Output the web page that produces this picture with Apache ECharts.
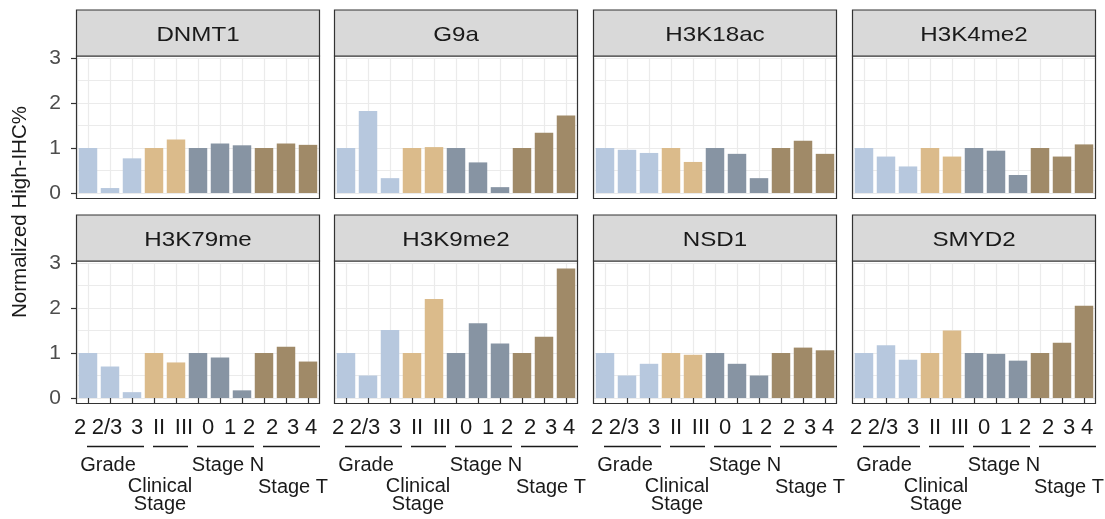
<!DOCTYPE html>
<html><head><meta charset="utf-8">
<script src="https://cdn.jsdelivr.net/npm/echarts@6/dist/echarts.min.js"></script>
<style>html,body{margin:0;padding:0;background:#fff}#c{width:1105px;height:519px}</style>
</head><body><div id="c"></div><script>
// ---- data ----
const markers = ['DNMT1', 'G9a', 'H3K18ac', 'H3K4me2', 'H3K79me', 'H3K9me2', 'NSD1', 'SMYD2'];
const tickLabels = ['2', '2/3', '3', 'II', 'III', '0', '1', '2', '2', '3', '4'];
const groupOf = [0, 0, 0, 1, 1, 2, 2, 2, 3, 3, 3];
const groupNames = ['Grade', 'Clinical\nStage', 'Stage N', 'Stage T'];
const yTicks = [0, 1, 2, 3];

const DNMT1   = [1.00, 0.11, 0.77, 1.00, 1.19, 1.00, 1.10, 1.06, 1.00, 1.10, 1.07];
const G9a     = [1.00, 1.82, 0.33, 1.00, 1.02, 1.00, 0.68, 0.13, 1.00, 1.34, 1.72];
const H3K18ac = [1.00, 0.96, 0.89, 1.00, 0.69, 1.00, 0.87, 0.33, 1.00, 1.16, 0.87];
const H3K4me2 = [1.00, 0.81, 0.59, 1.00, 0.81, 1.00, 0.94, 0.40, 1.00, 0.81, 1.08];
const H3K79me = [1.00, 0.70, 0.13, 1.00, 0.79, 1.00, 0.90, 0.17, 1.00, 1.14, 0.81];
const H3K9me2 = [1.00, 0.50, 1.51, 1.00, 2.20, 1.00, 1.66, 1.21, 1.00, 1.36, 2.88];
const NSD1    = [1.00, 0.50, 0.76, 1.00, 0.96, 1.00, 0.76, 0.50, 1.00, 1.12, 1.06];
const SMYD2   = [1.00, 1.17, 0.85, 1.00, 1.50, 1.00, 0.98, 0.83, 1.00, 1.23, 2.05];
const values = [DNMT1, G9a, H3K18ac, H3K4me2, H3K79me, H3K9me2, NSD1, SMYD2];

// ---- style / layout ----
const colors = ['#b7c8de', '#dbbb8b', '#8794a3', '#a08a68'];
const FONT = "'Liberation Sans', Arial, sans-serif";
const colLeft = [77, 335, 594, 853];
const panelW = 242;
const gridTop = [58, 263];
const gridH = 135;
const panelTop = [56, 261];
const panelBot = [198.5, 403.5];
const stripTop = [10, 215];
const stripH = 46;
const labelShift = [-8, -3, 5, 5, 8, 10, 10, 7, 8, 7, 3];

const catKeys = tickLabels.map((t, i) => i + '|' + t);
const rich = {};
labelShift.forEach((d, i) => {
  rich['s' + i] = {fontSize: 22, fontFamily: FONT, color: '#1a1a1a',
    padding: d >= 0 ? [0, 0, 0, 2 * d] : [0, -2 * d, 0, 0]};
});

const grids = [], xAxes = [], yAxes = [], series = [];
markers.forEach((m, k) => {
  const row = Math.floor(k / 4), col = k % 4;
  grids.push({left: colLeft[col], top: gridTop[row], width: panelW, height: gridH});
  const xi = xAxes.length;
  xAxes.push({
    type: 'category', gridIndex: k, data: catKeys, boundaryGap: true,
    offset: row === 1 ? 5.5 : 0,
    axisLine: {show: false},
    axisTick: {show: row === 1, alignWithLabel: true, interval: 0, length: 6, lineStyle: {color: '#333333', width: 1.2}},
    axisLabel: {show: row === 1, interval: 0, margin: 13, fontSize: 22, fontFamily: FONT, color: '#1a1a1a', rich: rich,
      formatter: (v) => { const p = v.split('|'); return '{s' + p[0] + '|' + p[1] + '}'; }},
    splitLine: {show: false}
  });
  // hidden helper axis: vertical grid lines at category centres
  xAxes.push({
    type: 'value', gridIndex: k, min: -0.5, max: 10.5, splitNumber: 11, position: 'top',
    axisLine: {show: false}, axisTick: {show: false}, axisLabel: {show: false},
    splitLine: {show: true, lineStyle: {color: '#ebebeb', width: 1.2}}
  });
  const yi = yAxes.length;
  yAxes.push({
    type: 'value', gridIndex: k, position: 'left', min: 0, max: 3, interval: 0.5,
    axisLine: {show: false}, axisTick: {show: false}, axisLabel: {show: false},
    splitLine: {show: true, lineStyle: {color: '#ebebeb', width: 1.2}}
  });
  if (col === 0) {
    yAxes.push({
      type: 'value', gridIndex: k, position: 'left', min: 0, max: 3, interval: 1,
      axisLine: {show: false}, splitLine: {show: false},
      axisTick: {show: true, length: 6, lineStyle: {color: '#333333', width: 1.2}},
      axisLabel: {show: true, margin: 16, fontSize: 21, fontFamily: FONT, color: '#4d4d4d',
        formatter: v => (yTicks.indexOf(v) >= 0 ? String(v) : '')}
    });
  }
  series.push({
    type: 'bar', xAxisIndex: xi, yAxisIndex: yi, barCategoryGap: '16%', silent: true,
    data: values[k].map((v, i) => ({value: v, itemStyle: {color: colors[groupOf[i]]}}))
  });
});

const chart = echarts.init(document.getElementById('c'), null, {renderer: 'canvas'});
chart.setOption({
  animation: false, backgroundColor: '#ffffff',
  grid: grids, xAxis: xAxes, yAxis: yAxes, series: series
});

// ---- decorations: panel borders, strips, titles, group labels ----
const g = [];
markers.forEach((m, k) => {
  const row = Math.floor(k / 4), col = k % 4;
  const L = colLeft[col];
  g.push({type: 'rect', z: 100, silent: true,
    shape: {x: L - 0.5, y: panelTop[row], width: panelW + 1, height: panelBot[row] - panelTop[row]},
    style: {fill: 'none', stroke: '#333333', lineWidth: 1.2}});
  g.push({type: 'rect', z: 100, silent: true,
    shape: {x: L - 0.5, y: stripTop[row], width: panelW + 1, height: stripH},
    style: {fill: '#d9d9d9', stroke: '#333333', lineWidth: 1.2}});
  g.push({type: 'text', z: 101, silent: true, x: L + panelW / 2, y: stripTop[row] + stripH / 2 + 2, scaleX: 1.15,
    style: {text: m, x: 0, y: 0, align: 'center', verticalAlign: 'middle', font: '21px ' + FONT, fill: '#1a1a1a'}});
  if (row === 1) {
    const axisY = gridTop[row] + gridH + 5.5;
    const labOff = [-2, -5, 8, 7];
    const labY = [62, 92, 62, 84];
    for (let gi = 0; gi < groupNames.length; gi++) {
      const idx = groupOf.map((v, i) => v === gi ? i : -1).filter(i => i >= 0);
      const x0 = chart.convertToPixel({xAxisIndex: k * 2}, idx[0]);
      const x1 = chart.convertToPixel({xAxisIndex: k * 2}, idx[idx.length - 1]);
      g.push({type: 'line', z: 100, silent: true,
        shape: {x1: x0 - 1, y1: axisY + 43, x2: x1 + 12, y2: axisY + 43},
        style: {stroke: '#1a1a1a', lineWidth: 1.3}});
      g.push({type: 'text', z: 100, silent: true,
        style: {text: groupNames[gi], x: (x0 + x1) / 2 + labOff[gi], y: axisY + labY[gi],
          align: 'center', verticalAlign: 'middle', font: '20px ' + FONT, fill: '#1a1a1a', lineHeight: 18}});
    }
  }
});
g.push({type: 'text', z: 100, silent: true, x: 20, y: 212, rotation: Math.PI / 2,
  style: {text: 'Normalized High-IHC%', x: 0, y: 0, align: 'center', verticalAlign: 'middle', font: '20.5px ' + FONT, fill: '#1a1a1a'}});
chart.setOption({graphic: g});
</script></body></html>
